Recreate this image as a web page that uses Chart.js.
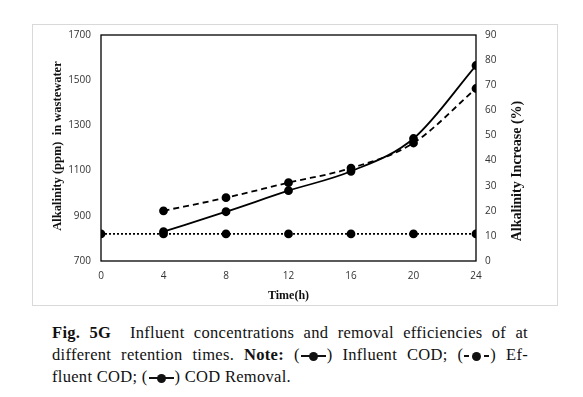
<!DOCTYPE html>
<html>
<head>
<meta charset="utf-8">
<script src="https://cdn.jsdelivr.net/npm/chart.js@4.4.0/dist/chart.umd.min.js"></script>
<style>
  body { margin: 0; background: #fff; width: 583px; height: 397px; position: relative; overflow: hidden; }
  #frame { position: absolute; left: 32px; top: 24px; width: 524px; height: 280px; border: 1px solid #d9d9d9; }
  #caption { position: absolute; left: 52px; top: 322px; width: 476px; font-family: "Liberation Serif", serif; font-size: 16.5px; line-height: 22px; color: #111; letter-spacing: 0.3px; }
  #caption .j { text-align: justify; text-align-last: justify; white-space: nowrap; }
  #caption b { font-weight: bold; }
  .mk { display: inline-block; position: relative; width: 25px; min-width: 25px; height: 10px; vertical-align: -1px; margin: 0 1px; }
  .mk::before { content: ""; position: absolute; left: 0; width: 25px; top: 4px; height: 2px; background: #111; }
  .mk.dash::before { background: repeating-linear-gradient(90deg, #111 0 5px, transparent 5px 20px); }
  .mk::after { content: ""; position: absolute; left: 8px; top: 1px; width: 9px; height: 9px; border-radius: 50%; background: #111; }
</style>
</head>
<body>
<div id="frame"><canvas id="alkChart" width="524" height="280"></canvas></div>
<div id="caption">
  <div class="j"><b>Fig. 5G</b>&nbsp; Influent concentrations and removal efficiencies of at</div>
  <div class="j">different retention times. <b>Note:</b> (<span class="mk"></span>) Influent COD; (<span class="mk dash"></span>) Ef-</div>
  <div>fluent COD; (<span class="mk"></span>) COD Removal.</div>
</div>
<script>
// hours on the x axis
const hours = [0, 4, 8, 12, 16, 20, 24];

// solid line, left axis (ppm)
const solidHours = [4, 8, 12, 16, 20, 24];
const solidValues = [830, 918, 1011, 1097, 1242, 1565];

// dashed line, right axis (%)
const dashedHours = [4, 8, 12, 16, 20, 24];
const dashedValues = [20, 25.2, 31.2, 37, 47, 68.7];

// dotted line, left axis (ppm)
const dottedValues = [820, 820, 820, 820, 820, 820, 820];

const leftTicks = [700, 900, 1100, 1300, 1500, 1700];
const rightTicks = [0, 10, 20, 30, 40, 50, 60, 70, 80, 90];

const toPoints = (xs, ys) => xs.map((x, i) => ({ x: x, y: ys[i] }));

const tickFont = { family: "Open Sans", size: 10 };
const tickColor = "#333";

// box round the plot and the hand drawn axis titles
const framePlugin = {
  id: "framePlugin",
  afterDraw(chart) {
    const { ctx, chartArea: a } = chart;
    ctx.save();
    ctx.strokeStyle = "#000";
    ctx.lineWidth = 1.3;
    ctx.strokeRect(a.left, a.top, a.right - a.left, a.bottom - a.top);

    ctx.fillStyle = "#111";
    ctx.font = "bold 12px 'Liberation Serif'";
    ctx.textAlign = "center";
    ctx.textBaseline = "middle";
    ctx.fillText("Time(h)", (a.left + a.right) / 2, 271);

    ctx.save();
    ctx.translate(25, (a.top + a.bottom) / 2 - 2);
    ctx.rotate(-Math.PI / 2);
    ctx.font = "bold 12.5px 'Liberation Serif'";
    ctx.fillText("Alkalinity (ppm)  in wastewater", 0, 0);
    ctx.restore();

    ctx.save();
    ctx.translate(484, 146);
    ctx.rotate(-Math.PI / 2);
    ctx.font = "bold 14px 'Liberation Serif'";
    ctx.fillText("Alkalinity Increase (%)", 0, 0);
    ctx.restore();
    ctx.restore();
  }
};

const noPad = s => { s.paddingTop = 0; s.paddingBottom = 0; };

const ctx = document.getElementById("alkChart").getContext("2d");

new Chart(ctx, {
  type: "line",
  data: {
    datasets: [
      {
        label: "Influent COD",
        data: toPoints(solidHours, solidValues),
        yAxisID: "y",
        borderColor: "#000",
        backgroundColor: "#000",
        borderWidth: 1.8,
        pointRadius: 3.5,
        cubicInterpolationMode: "monotone"
      },
      {
        label: "Effluent COD",
        data: toPoints(dashedHours, dashedValues),
        yAxisID: "y2",
        borderColor: "#000",
        backgroundColor: "#000",
        borderWidth: 1.8,
        borderDash: [6, 4],
        pointRadius: 3.5,
        cubicInterpolationMode: "monotone"
      },
      {
        label: "COD Removal",
        data: toPoints(hours, dottedValues),
        yAxisID: "y",
        borderColor: "#000",
        backgroundColor: "#000",
        borderWidth: 1.8,
        borderDash: [2, 2],
        pointRadius: 3.5
      }
    ]
  },
  options: {
    responsive: false,
    animation: false,
    layout: { padding: { top: 10, left: 0, right: 0, bottom: 0 } },
    plugins: { legend: { display: false }, tooltip: { enabled: false } },
    scales: {
      x: {
        type: "linear",
        min: 0,
        max: 24,
        afterBuildTicks: s => { s.ticks = hours.map(v => ({ value: v })); },
        afterFit: s => { s.height = 44; s.paddingLeft = 0; s.paddingRight = 0; },
        grid: { display: false, drawTicks: false },
        border: { display: false },
        ticks: { font: tickFont, color: tickColor, padding: 9 }
      },
      y: {
        position: "left",
        min: 700,
        max: 1700,
        afterBuildTicks: s => { s.ticks = leftTicks.map(v => ({ value: v })); },
        afterFit: s => { s.width = 68; noPad(s); },
        grid: { display: false, drawTicks: false },
        border: { display: false },
        ticks: { font: tickFont, color: tickColor, padding: 10, callback: v => String(v) }
      },
      y2: {
        position: "right",
        min: 0,
        max: 90,
        afterBuildTicks: s => { s.ticks = rightTicks.map(v => ({ value: v })); },
        afterFit: s => { s.width = 81; noPad(s); },
        grid: { display: false, drawOnChartArea: false, drawTicks: true, tickLength: 5, tickColor: "#000" },
        border: { display: false },
        ticks: { font: tickFont, color: tickColor, padding: 4 }
      }
    }
  },
  plugins: [framePlugin]
});
</script>
</body>
</html>
